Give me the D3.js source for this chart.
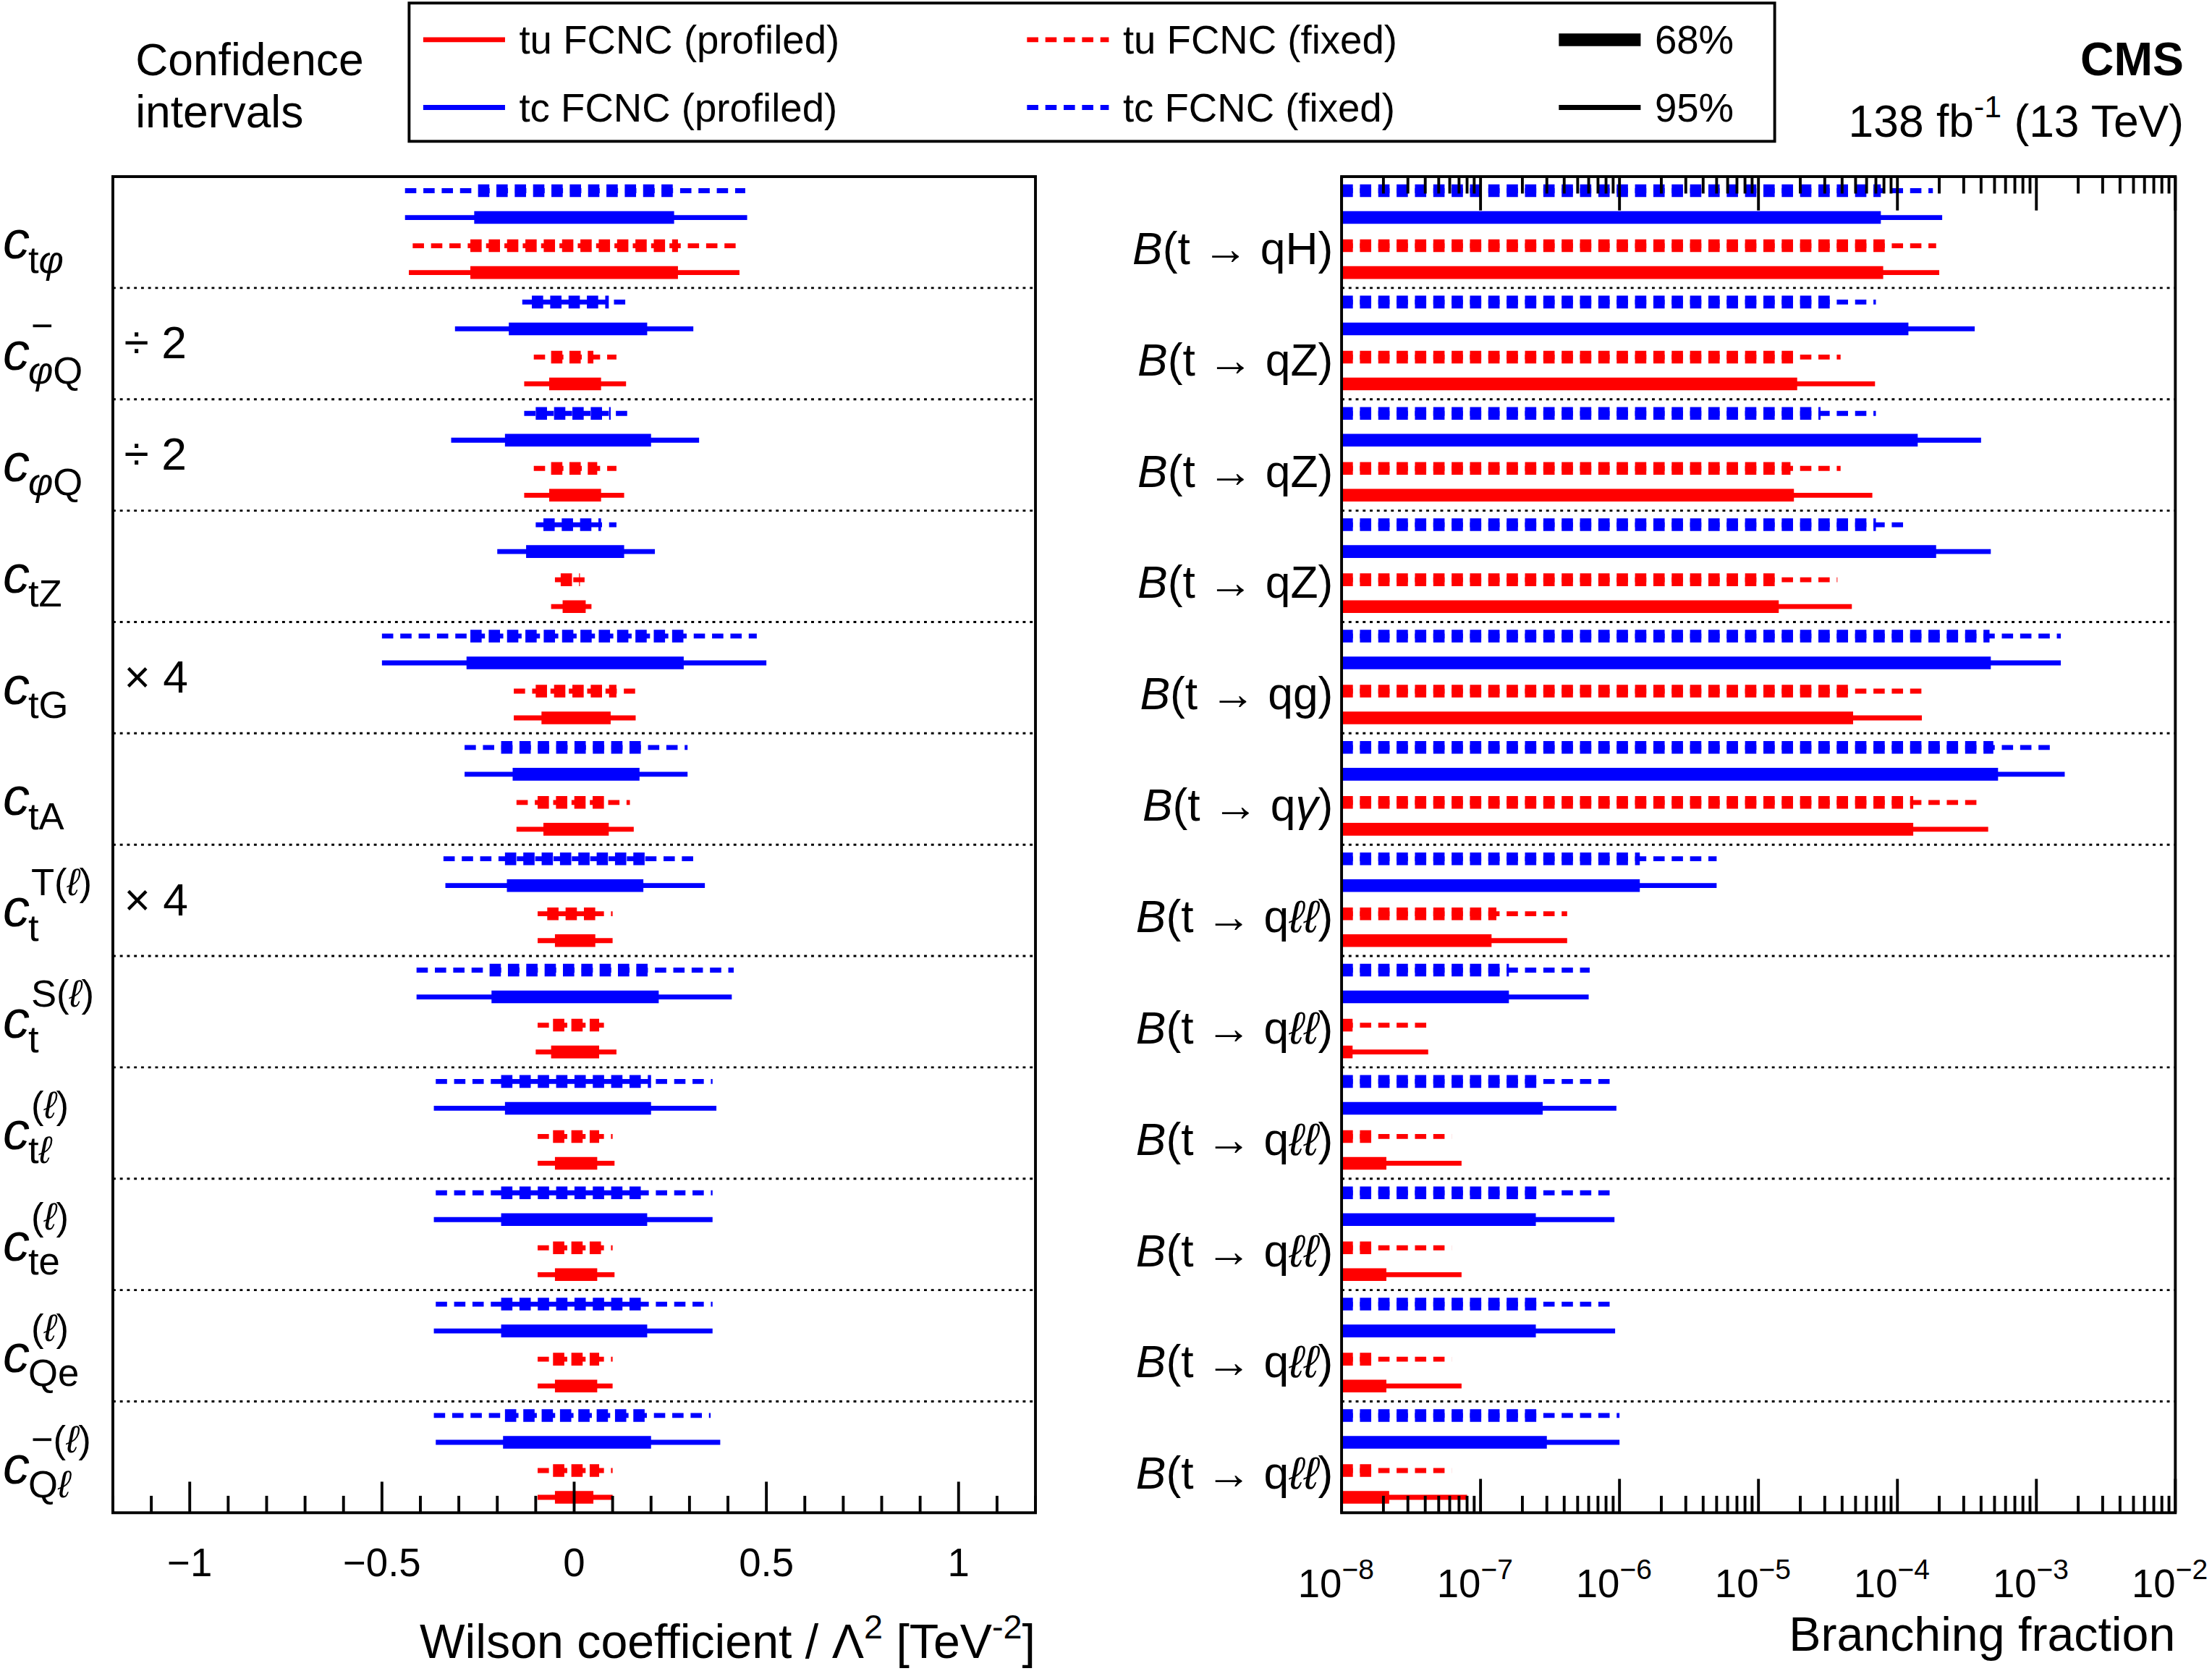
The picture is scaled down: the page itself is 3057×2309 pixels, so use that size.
<!DOCTYPE html>
<html><head><meta charset="utf-8">
<script src="https://cdn.jsdelivr.net/npm/d3@7/dist/d3.min.js"></script>
<style>body{margin:0;background:#fff}text{font-family:"Liberation Sans",Arial,sans-serif}</style>
</head><body>
<svg id="c" width="3057" height="2309" viewBox="0 0 1568 1184"></svg>
<script>
// each row: [tcFixed, tcProf, tuFixed, tuProf], each [lo95, lo68, hi68, hi95]
var wilsonLabels = [
  {sub: [["t",0],["φ",1]]},
  {sub: [["φ",1],["Q",0]], sup: [["−",0]], note: "÷ 2"},
  {sub: [["φ",1],["Q",0]], note: "÷ 2"},
  {sub: [["tZ",0]]},
  {sub: [["tG",0]], note: "× 4"},
  {sub: [["tA",0]]},
  {sub: [["t",0]], sup: [["T(",0],["ℓ",1],[")",0]], note: "× 4"},
  {sub: [["t",0]], sup: [["S(",0],["ℓ",1],[")",0]]},
  {sub: [["t",0],["ℓ",1]], sup: [["(",0],["ℓ",1],[")",0]]},
  {sub: [["te",0]], sup: [["(",0],["ℓ",1],[")",0]]},
  {sub: [["Qe",0]], sup: [["(",0],["ℓ",1],[")",0]]},
  {sub: [["Q",0],["ℓ",1]], sup: [["−(",0],["ℓ",1],[")",0]]}
];
var wilsonValues = [
  [[-0.44,-0.25,0.27,0.445],[-0.44,-0.26,0.26,0.45],[-0.42,-0.27,0.27,0.42],[-0.43,-0.27,0.27,0.43]],
  [[-0.135,-0.11,0.09,0.14],[-0.31,-0.17,0.19,0.31],[-0.105,-0.06,0.05,0.11],[-0.13,-0.065,0.07,0.135]],
  [[-0.13,-0.10,0.095,0.14],[-0.32,-0.18,0.20,0.325],[-0.105,-0.06,0.06,0.11],[-0.13,-0.065,0.07,0.13]],
  [[-0.10,-0.08,0.07,0.11],[-0.20,-0.125,0.13,0.21],[-0.05,-0.035,0.015,0.03],[-0.06,-0.03,0.03,0.045]],
  [[-0.50,-0.27,0.285,0.475],[-0.50,-0.28,0.285,0.50],[-0.157,-0.10,0.11,0.16],[-0.157,-0.085,0.095,0.16]],
  [[-0.285,-0.19,0.18,0.295],[-0.285,-0.16,0.17,0.295],[-0.15,-0.095,0.095,0.145],[-0.15,-0.08,0.09,0.155]],
  [[-0.34,-0.18,0.19,0.32],[-0.335,-0.175,0.18,0.34],[-0.095,-0.07,0.07,0.10],[-0.095,-0.05,0.055,0.10]],
  [[-0.41,-0.22,0.20,0.415],[-0.41,-0.215,0.22,0.41],[-0.095,-0.055,0.065,0.095],[-0.10,-0.06,0.065,0.11]],
  [[-0.36,-0.19,0.20,0.36],[-0.365,-0.18,0.20,0.37],[-0.095,-0.055,0.065,0.10],[-0.095,-0.05,0.06,0.105]],
  [[-0.36,-0.19,0.19,0.36],[-0.365,-0.19,0.19,0.36],[-0.095,-0.055,0.07,0.10],[-0.095,-0.05,0.06,0.105]],
  [[-0.36,-0.19,0.19,0.36],[-0.365,-0.19,0.19,0.36],[-0.095,-0.055,0.065,0.10],[-0.095,-0.05,0.06,0.10]],
  [[-0.365,-0.18,0.195,0.355],[-0.36,-0.185,0.20,0.38],[-0.095,-0.055,0.065,0.10],[-0.095,-0.05,0.05,0.10]]
];
var wilsonTicks = [-1, -0.5, 0, 0.5, 1];

var brLabels = ["H","Z","Z","Z","g","γ","ℓℓ","ℓℓ","ℓℓ","ℓℓ","ℓℓ","ℓℓ"];
// each row: [tcFixed, tcProf, tuFixed, tuProf], each [68%, 95%] upper limit
var brValues = [
  [[7.6e-5,1.8e-4],[7.6e-5,2.1e-4],[8.3e-5,1.9e-4],[7.9e-5,2.0e-4]],
  [[3.5e-5,7.0e-5],[1.2e-4,3.6e-4],[1.8e-5,3.9e-5],[1.9e-5,6.9e-5]],
  [[2.8e-5,7.0e-5],[1.4e-4,4.0e-4],[1.7e-5,3.9e-5],[1.8e-5,6.6e-5]],
  [[7.0e-5,1.2e-4],[1.9e-4,4.7e-4],[1.4e-5,3.7e-5],[1.4e-5,4.7e-5]],
  [[4.6e-4,1.5e-3],[4.7e-4,1.5e-3],[4.4e-5,1.5e-4],[4.8e-5,1.5e-4]],
  [[4.9e-4,1.3e-3],[5.3e-4,1.6e-3],[1.3e-4,4.1e-4],[1.3e-4,4.5e-4]],
  [[1.4e-6,5.0e-6],[1.4e-6,5.0e-6],[1.3e-7,4.2e-7],[1.2e-7,4.2e-7]],
  [[1.6e-7,6.1e-7],[1.6e-7,6.0e-7],[1.2e-8,4.2e-8],[1.2e-8,4.2e-8]],
  [[2.7e-7,9.3e-7],[2.8e-7,9.5e-7],[1.75e-8,6.2e-8],[2.1e-8,7.3e-8]],
  [[2.6e-7,9.3e-7],[2.5e-7,9.2e-7],[1.75e-8,6.2e-8],[2.1e-8,7.3e-8]],
  [[2.6e-7,9.3e-7],[2.5e-7,9.3e-7],[1.75e-8,6.2e-8],[2.1e-8,7.3e-8]],
  [[2.8e-7,1.0e-6],[3.0e-7,1.0e-6],[1.75e-8,6.2e-8],[2.2e-8,8.0e-8]]
];
var brTicks = [-8,-7,-6,-5,-4,-3,-2];

var seriesStyle = [
  {color:"#0000ff", dash:true}, {color:"#0000ff", dash:false},
  {color:"#ff0000", dash:true}, {color:"#ff0000", dash:false}
];
var lineOffsets = [10, 29, 49, 68];
var thick = 9, thin = 3.5, dashArr = "8,5";

var svg = d3.select("#c");
var plotTop = 125, plotBot = 1072;
var y = d3.scaleLinear().domain([0, 12]).range([plotTop, plotBot]);
var xL = d3.scaleLinear().domain([-1.2, 1.2]).range([80, 734]);
var xR = d3.scaleLog().domain([1e-8, 1e-2]).range([951, 1542]);

function seg(x1, x2, yy, w, st) {
  svg.append("line").attr("x1", x1).attr("x2", x2).attr("y1", yy).attr("y2", yy)
    .attr("stroke", st.color).attr("stroke-width", w)
    .attr("stroke-dasharray", st.dash ? dashArr : null);
}

// left panel bars
wilsonValues.forEach(function (row, i) {
  row.forEach(function (v, k) {
    var yy = y(i) + lineOffsets[k], st = seriesStyle[k];
    seg(xL(v[0]), xL(v[3]), yy, thin, st);
    seg(xL(v[1]), xL(v[2]), yy, thick, st);
  });
});
// right panel bars
brValues.forEach(function (row, i) {
  row.forEach(function (v, k) {
    var yy = y(i) + lineOffsets[k], st = seriesStyle[k];
    seg(xR(1e-8), xR(v[1]), yy, thin, st);
    seg(xR(1e-8), xR(v[0]), yy, thick, st);
  });
});

// dotted separators
d3.range(1, 12).forEach(function (i) {
  [[80, 734], [951, 1542]].forEach(function (r) {
    svg.append("line").attr("x1", r[0]).attr("x2", r[1]).attr("y1", y(i)).attr("y2", y(i))
      .attr("stroke", "#000").attr("stroke-width", 1.5).attr("stroke-dasharray", "2,3");
  });
});

// frames
svg.append("rect").attr("x", 80).attr("y", plotTop).attr("width", 654).attr("height", plotBot - plotTop)
  .attr("fill", "none").attr("stroke", "#000").attr("stroke-width", 2);
svg.append("rect").attr("x", 951).attr("y", plotTop).attr("width", 591).attr("height", plotBot - plotTop)
  .attr("fill", "none").attr("stroke", "#000").attr("stroke-width", 2);

// left ticks
d3.range(-12, 13).forEach(function (j) {
  var v = j / 10, major = j % 5 === 0;
  svg.append("line").attr("x1", xL(v)).attr("x2", xL(v)).attr("y1", plotBot).attr("y2", plotBot - (major ? 22 : 12))
    .attr("stroke", "#000").attr("stroke-width", 2);
});
wilsonTicks.forEach(function (v) {
  svg.append("text").attr("x", xL(v)).attr("y", 1117).attr("text-anchor", "middle")
    .attr("font-size", 28).text(v === 0 ? "0" : String(v).replace("-", "−"));
});

// right ticks (bottom and top)
brTicks.forEach(function (e, idx) {
  var d = Math.pow(10, e);
  [[plotBot, -1], [plotTop, 1]].forEach(function (p) {
    svg.append("line").attr("x1", xR(d)).attr("x2", xR(d)).attr("y1", p[0]).attr("y2", p[0] + p[1] * 24)
      .attr("stroke", "#000").attr("stroke-width", 2);
    if (idx < brTicks.length - 1) {
      d3.range(2, 10).forEach(function (m) {
        svg.append("line").attr("x1", xR(m * d)).attr("x2", xR(m * d)).attr("y1", p[0]).attr("y2", p[0] + p[1] * 12)
          .attr("stroke", "#000").attr("stroke-width", 2);
      });
    }
  });
  var t = svg.append("text").attr("x", xR(d) - 4).attr("y", 1132).attr("text-anchor", "middle").attr("font-size", 28);
  t.append("tspan").text("10");
  t.append("tspan").attr("dy", -13).attr("font-size", 20).text(String(e).replace("-", "−"));
});

// axis titles
var wt = svg.append("text").attr("x", 734).attr("y", 1175).attr("text-anchor", "end").attr("font-size", 34);
wt.append("tspan").text("Wilson coefficient / Λ");
wt.append("tspan").attr("dy", -14).attr("font-size", 24).text("2");
wt.append("tspan").attr("dy", 14).text(" [TeV");
wt.append("tspan").attr("dy", -14).attr("font-size", 24).text("-2");
wt.append("tspan").attr("dy", 14).text("]");
svg.append("text").attr("x", 1542).attr("y", 1170).attr("text-anchor", "end").attr("font-size", 34).text("Branching fraction");

// left row labels
function addSegs(t, segs) {
  segs.forEach(function (s) {
    t.append("tspan").attr("font-style", s[1] ? "italic" : "normal").text(s[0]);
  });
}
wilsonLabels.forEach(function (l, i) {
  var base = y(i) + 58;
  svg.append("text").attr("x", 2).attr("y", base).attr("font-size", 38).attr("font-style", "italic").text("c");
  var s = svg.append("text").attr("x", 20).attr("y", base + 10).attr("font-size", 27);
  addSegs(s, l.sub);
  if (l.sup) {
    var u = svg.append("text").attr("x", 22).attr("y", base - 22).attr("font-size", 27);
    addSegs(u, l.sup);
  }
  if (l.note) svg.append("text").attr("x", 88).attr("y", base - 8).attr("font-size", 32).text(l.note);
});

// right row labels
brLabels.forEach(function (l, i) {
  var t = svg.append("text").attr("x", 945).attr("y", y(i) + 62).attr("text-anchor", "end").attr("font-size", 32);
  t.append("tspan").attr("font-style", "italic").text("B");
  t.append("tspan").text("(t → q");
  t.append("tspan").attr("font-style", l === "H" || l === "Z" || l === "g" ? "normal" : "italic").text(l);
  t.append("tspan").text(")");
});

// legend
svg.append("rect").attr("x", 290).attr("y", 2).attr("width", 968).attr("height", 98)
  .attr("fill", "none").attr("stroke", "#000").attr("stroke-width", 2);
var legend = [
  ["tu FCNC (profiled)", 300, 28, seriesStyle[3], thin],
  ["tc FCNC (profiled)", 300, 76, seriesStyle[1], thin],
  ["tu FCNC (fixed)", 728, 28, seriesStyle[2], thin],
  ["tc FCNC (fixed)", 728, 76, seriesStyle[0], thin],
  ["68%", 1105, 28, {color:"#000", dash:false}, thick],
  ["95%", 1105, 76, {color:"#000", dash:false}, thin]
];
legend.forEach(function (l) {
  seg(l[1], l[1] + 58, l[2], l[4], l[3]);
  svg.append("text").attr("x", l[1] + 68).attr("y", l[2] + 10).attr("font-size", 28).text(l[0]);
});
svg.append("text").attr("x", 96).attr("y", 53).attr("font-size", 32).text("Confidence");
svg.append("text").attr("x", 96).attr("y", 90).attr("font-size", 32).text("intervals");
svg.append("text").attr("x", 1548).attr("y", 53).attr("text-anchor", "end").attr("font-size", 33)
  .attr("font-weight", "bold").text("CMS");
var lum = svg.append("text").attr("x", 1548).attr("y", 97).attr("text-anchor", "end").attr("font-size", 32);
lum.append("tspan").text("138 fb");
lum.append("tspan").attr("dy", -14).attr("font-size", 22).text("-1");
lum.append("tspan").attr("dy", 14).text(" (13 TeV)");
</script>
</body></html>
